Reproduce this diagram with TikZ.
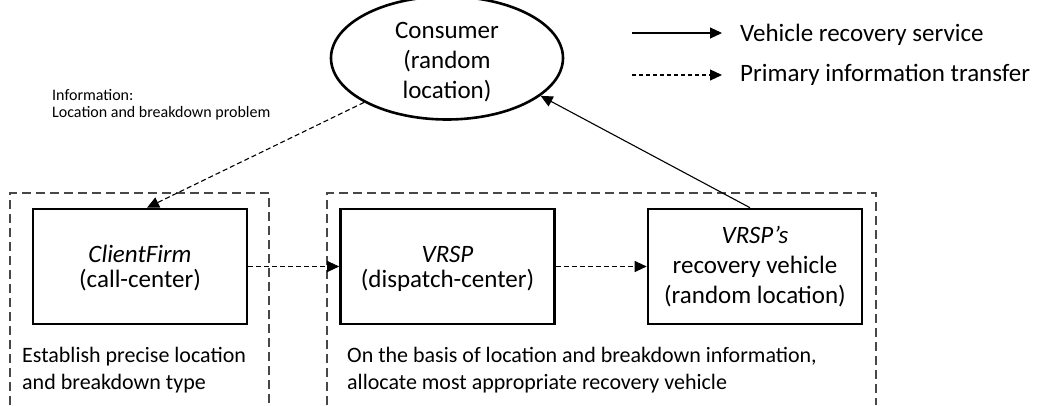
\documentclass[tikz,border=0pt]{standalone}
\usepackage{fontspec}
\setmainfont{Carlito}
\usetikzlibrary{arrows.meta,shapes.geometric}
\begin{document}
\begin{tikzpicture}[x=1pt,y=-1pt,
  box/.style={draw, line width=2.6pt, minimum width=214pt, minimum height=115pt, align=center, inner sep=0pt, font=\fontsize{25}{25}\selectfont},
  grp/.style={draw=black!72, line width=1.1pt, dash pattern=on 9pt off 5pt},
  tip/.style={-{Triangle[length=12pt,width=11pt]}},
  info/.style={tip, line width=1.1pt, dash pattern=on 5pt off 3pt},
  serv/.style={tip, line width=1.1pt},
  lbl/.style={inner sep=0pt, align=left, anchor=north west},
]
\useasboundingbox (0,0) rectangle (1037,405);
% group frames (open at the bottom)
\draw[grp] (10,405) -- (10,193) -- (269,193) -- (269,405);
\draw[grp] (327,405) -- (327,193) -- (876,193) -- (876,405);
% consumer
\node[ellipse, draw, line width=2.6pt, minimum width=232pt, minimum height=97pt, inner sep=0pt, align=center, font=\fontsize{25}{30}\selectfont] (cons) at (447,58) {\rule{0pt}{23.5pt}Consumer\\(random\\location)};
% boxes
\node[box] (cf) at (140,266.5) {\rule{0pt}{21pt}\textit{ClientFirm}\\(call-center)};
\node[box] (vrsp) at (447.5,266.5) {\rule{0pt}{21pt}\textit{VRSP}\\(dispatch-center)};
\node[box, font=\fontsize{25}{30}\selectfont] (veh) at (755,266.5) {\textit{VRSP’s}\\recovery vehicle\\(random location)};
% texts
\node[lbl, font=\fontsize{16}{17.5}\selectfont] (infotxt) at (52,89) {Information:\\Location and breakdown problem};
\node[lbl, font=\fontsize{22}{27}\selectfont] (cftxt) at (22,347) {Establish precise location\\and breakdown type};
\node[lbl, font=\fontsize{22}{27}\selectfont] (vrsptxt) at (347,347) {On the basis of location and breakdown information,\\allocate most appropriate recovery vehicle};
% connectors
\draw[info] (cons.south west) -- ([xshift=7pt]cf.north);
\draw[info] (cf.east) -- (vrsp.west);
\draw[info] (vrsp.east) -- (veh.west);
\draw[serv] ([xshift=-5pt]veh.north) -- (cons.-22);
% legend
\coordinate (l1s) at (632,33);
\coordinate (l1e) at (722,33);
\coordinate (l2s) at (632,75);
\coordinate (l2e) at (722,75);
\draw[serv] (l1s) -- (l1e);
\draw[tip, line width=1.1pt, dash pattern=on 4pt off 3pt] (l2s) -- (l2e);
\node[inner sep=0pt, anchor=base west, font=\fontsize{25}{30}\selectfont] (leg1) at (740,41) {Vehicle recovery service};
\node[inner sep=0pt, anchor=base west, font=\fontsize{25}{30}\selectfont] (leg2) at (740,81) {Primary information transfer};
\end{tikzpicture}
\end{document}
